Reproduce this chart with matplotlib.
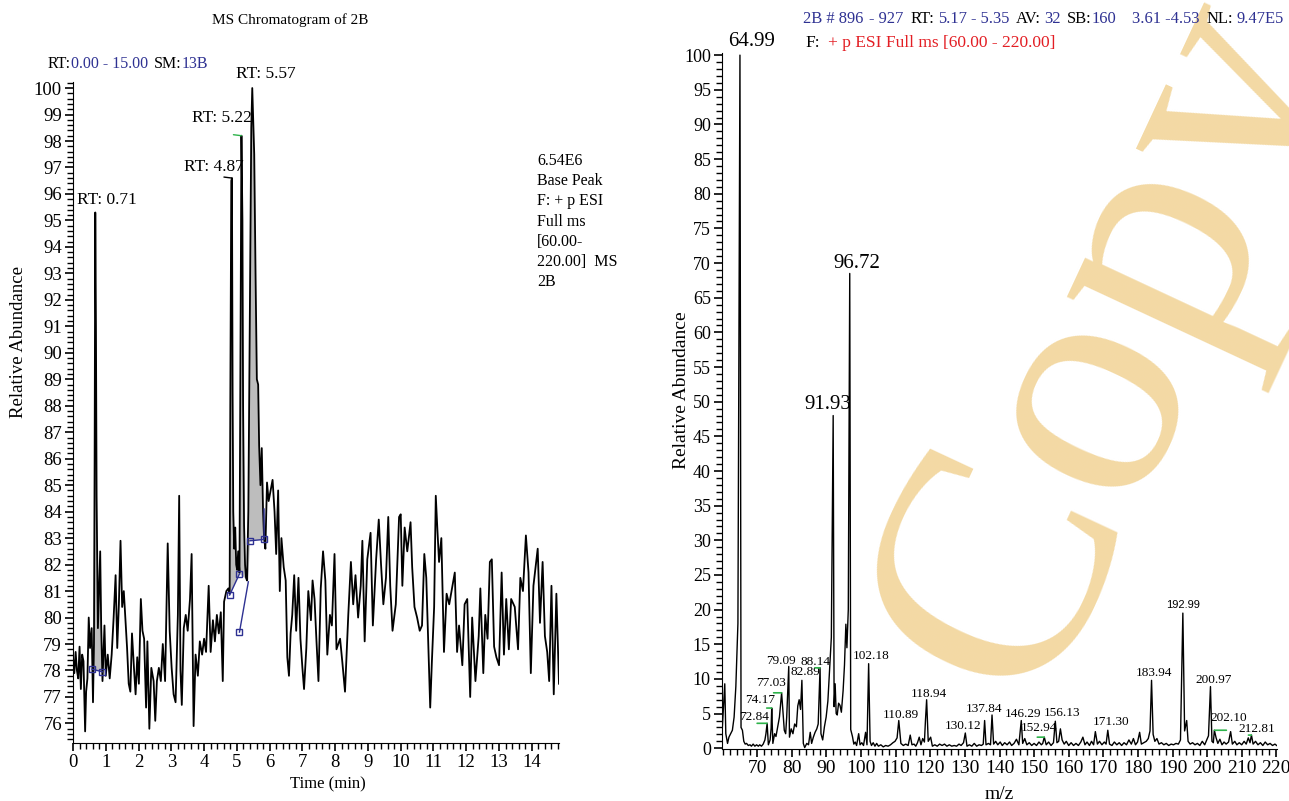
import numpy as np
import matplotlib
matplotlib.use('Agg')
import matplotlib.pyplot as plt
from matplotlib.ticker import MultipleLocator
from matplotlib.transforms import IdentityTransform

plt.rcParams['font.family'] = ['Liberation Serif', 'DejaVu Serif']

NAVY = '#2E3192'
RED = '#E31E24'
GREEN = '#2DB34A'

# --- chromatogram (left) ---
chrom_time = [0.00, 0.04, 0.08, 0.12, 0.16, 0.20, 0.24, 0.28, 0.32, 0.37, 0.40, 0.44, 0.48, 0.52, 0.57,
              0.61, 0.64, 0.66, 0.68, 0.70, 0.72, 0.76, 0.79, 0.83, 0.86, 0.90, 0.96, 1.00, 1.06, 1.12,
              1.18, 1.24, 1.30, 1.35, 1.40, 1.45, 1.50, 1.55, 1.60, 1.65, 1.70, 1.75, 1.80, 1.86, 1.91,
              1.96, 2.01, 2.07, 2.12, 2.17, 2.23, 2.27, 2.33, 2.39, 2.46, 2.51, 2.56, 2.62, 2.68, 2.74,
              2.81, 2.89, 2.95, 3.01, 3.07, 3.13, 3.20, 3.24, 3.28, 3.32, 3.38, 3.44, 3.50, 3.57, 3.62,
              3.68, 3.74, 3.81, 3.87, 3.94, 4.00, 4.06, 4.14, 4.20, 4.27, 4.33, 4.39, 4.45, 4.51, 4.57,
              4.61, 4.68, 4.74, 4.78, 4.80, 4.83, 4.85, 4.87, 4.89, 4.92, 4.95, 4.98, 5.01, 5.04, 5.08,
              5.11, 5.14, 5.17, 5.19, 5.22, 5.25, 5.28, 5.31, 5.35, 5.40, 5.44, 5.47, 5.50, 5.53, 5.57,
              5.61, 5.65, 5.68, 5.72, 5.76, 5.80, 5.83, 5.87, 5.92, 5.97, 6.03, 6.09, 6.15, 6.20, 6.26,
              6.31, 6.36, 6.43, 6.49, 6.54, 6.59, 6.64, 6.69, 6.75, 6.81, 6.88, 6.94, 7.00, 7.05, 7.12,
              7.18, 7.26, 7.31, 7.37, 7.43, 7.49, 7.56, 7.63, 7.70, 7.76, 7.84, 7.90, 7.98, 8.04, 8.15,
              8.22, 8.30, 8.40, 8.48, 8.55, 8.62, 8.70, 8.78, 8.83, 8.90, 8.98, 9.08, 9.15, 9.25, 9.33,
              9.40, 9.47, 9.55, 9.62, 9.68, 9.75, 9.85, 9.95, 10.00, 10.05, 10.12, 10.20, 10.30, 10.35,
              10.42, 10.50, 10.58, 10.65, 10.72, 10.78, 10.90, 10.95, 11.02, 11.07, 11.12, 11.17, 11.24,
              11.32, 11.40, 11.48, 11.55, 11.65, 11.72, 11.78, 11.88, 11.95, 12.03, 12.12, 12.18, 12.28,
              12.38, 12.43, 12.52, 12.58, 12.65, 12.72, 12.78, 12.85, 12.92, 13.00, 13.08, 13.15, 13.22,
              13.30, 13.37, 13.48, 13.58, 13.65, 13.73, 13.82, 13.90, 13.97, 14.05, 14.18, 14.25, 14.33,
              14.40, 14.47, 14.53, 14.60, 14.67, 14.75, 14.83]
chrom_abund = [78.5, 77.9, 78.7, 78.0, 77.7, 78.9, 77.3, 78.6, 78.35, 75.7, 77.2, 77.7, 80.0, 78.85, 79.6,
               76.8, 79.0, 86.0, 95.3, 91.0, 84.6, 79.6, 80.9, 82.5, 79.7, 77.6, 79.7, 77.8, 78.6, 77.7,
               78.6, 80.0, 81.6, 78.85, 80.5, 82.9, 80.4, 81.0, 79.9, 78.85, 77.5, 77.2, 79.4, 78.1, 77.1,
               78.5, 77.5, 80.7, 79.5, 79.2, 76.6, 79.1, 75.8, 78.1, 77.6, 76.1, 77.6, 78.1, 77.6, 79.0,
               77.6, 82.8, 79.5, 78.1, 77.1, 76.8, 80.1, 84.6, 78.0, 76.7, 79.6, 80.1, 79.5, 80.7, 82.4,
               75.9, 78.6, 77.8, 79.1, 78.6, 79.2, 78.7, 81.2, 78.7, 79.9, 79.1, 80.1, 79.4, 80.2, 77.6,
               80.6, 81.0, 81.1, 80.9, 88.0, 96.5, 96.6, 88.5, 84.0, 82.6, 83.4, 82.0, 81.8, 82.5, 81.7,
               90.0, 98.2, 95.0, 88.0, 83.5, 82.0, 81.5, 81.4, 84.0, 92.0, 98.5, 100.0, 98.7, 97.5, 93.0,
               89.0, 88.8, 86.5, 85.0, 86.4, 84.0, 83.0, 82.6, 85.1, 84.4, 84.8, 85.2, 84.0, 82.4, 84.8,
               81.0, 83.0, 81.9, 81.4, 78.5, 77.8, 79.4, 80.1, 81.6, 79.5, 81.5, 79.2, 78.1, 77.3, 78.85,
               81.0, 79.9, 81.4, 80.7, 79.1, 77.6, 81.1, 82.5, 81.4, 78.6, 80.1, 79.7, 82.4, 78.8, 79.2,
               78.3, 77.2, 80.1, 82.1, 80.5, 81.6, 80.0, 81.2, 82.9, 79.1, 82.2, 83.2, 79.7, 82.2, 83.7,
               82.0, 80.5, 81.5, 83.8, 81.2, 79.5, 80.5, 83.8, 83.9, 81.2, 83.4, 82.5, 83.6, 81.9,
               80.4, 80.0, 79.5, 79.7, 82.4, 81.5, 76.6, 78.3, 80.4, 84.6, 83.3, 82.1, 83.0,
               78.7, 80.9, 80.5, 81.0, 81.7, 78.7, 79.7, 78.2, 80.5, 80.7, 77.0, 80.0, 77.6,
               79.3, 81.1, 77.9, 80.1, 79.2, 82.1, 82.2, 78.9, 78.5, 78.2, 81.7, 78.6, 80.7,
               78.8, 80.7, 80.4, 78.8, 81.5, 81.0, 83.1, 81.7, 77.9, 81.2, 82.6, 79.8, 82.1,
               79.3, 78.7, 77.6, 81.2, 77.1, 80.9, 77.5]

rt_labels = ['RT: 0.71', 'RT: 4.87', 'RT: 5.22', 'RT: 5.57']
rt_peak_time = [0.68, 4.85, 5.14, 5.47]
rt_label_offset = [(12, 12), (-18, 11), (-20, 18), (14, 14)]   # pixels

# integration baselines (blue squares)
base1_t = [0.58, 0.90]
base1_y = [78.05, 77.95]
base2_t = [4.78, 5.08, 5.35, 5.40, 5.83]
base2_y = [80.85, 81.65, 81.40, 82.90, 82.95]
blue_seg_t = [[0.58, 0.90], [4.78, 5.08], [5.08, 5.35], [5.40, 5.83, 5.83]]
blue_seg_y = [[78.05, 77.95], [80.85, 81.65], [79.45, 81.35], [82.90, 82.95, 84.10]]
blue_pt_t = [0.58, 0.90, 4.78, 5.08, 5.08, 5.40, 5.83]
blue_pt_y = [78.05, 77.95, 80.85, 81.65, 79.45, 82.90, 82.95]

# --- mass spectrum (right) ---
spec_mz = [59.9, 60.6, 60.9, 61.4, 61.8, 62.3, 62.8, 63.3, 63.8, 64.4, 64.99, 65.3, 65.7, 66.1, 66.5,
           66.9, 67.4, 67.9, 68.3, 68.8, 69.3, 69.8, 70.3, 70.7, 71.2, 71.7, 72.2, 72.5, 72.84, 73.2,
           73.7, 74.0, 74.17, 74.5, 75.0, 75.4, 75.9, 76.4, 77.03, 77.4, 77.8, 78.2, 78.5, 79.09, 79.3,
           79.8, 80.3, 80.8, 81.3, 81.7, 82.1, 82.5, 82.89, 83.3, 83.7, 84.3, 84.8, 85.3, 85.7, 86.2,
           86.7, 87.2, 87.6, 88.14, 88.4, 88.9, 89.4, 89.9, 90.4, 90.9, 91.4, 91.93, 92.2, 92.5, 92.8,
           93.1, 93.5, 93.9, 94.3, 94.8, 95.2, 95.6, 95.9, 96.3, 96.72, 97.0, 97.5, 97.9, 98.3, 98.7,
           99.3, 99.7, 100.2, 100.7, 101.3, 101.7, 102.18, 102.6, 103.0, 103.5, 104.0, 104.5, 105.0,
           105.7, 106.4, 107.1, 107.8, 108.5, 109.2, 109.8, 110.4, 110.89, 111.5, 112.2, 112.9, 113.6,
           114.2, 114.7, 115.3, 115.8, 116.3, 116.8, 117.3, 117.8, 118.3, 118.6, 118.94, 119.4, 120.1,
           120.6, 121.3, 122.0, 122.7, 123.4, 124.1, 124.8, 125.5, 126.2, 126.9, 127.6, 128.3, 128.9,
           129.6, 130.12, 130.6, 131.3, 132.0, 132.7, 133.4, 134.1, 134.8, 135.3, 135.7, 136.1, 136.8,
           137.4, 137.84, 138.3, 138.9, 139.5, 140.2, 140.8, 141.5, 142.2, 142.9, 143.5, 144.2, 144.9,
           145.6, 146.29, 146.7, 147.3, 147.9, 148.6, 149.3, 150.0, 150.7, 151.4, 152.1, 152.5, 152.94,
           153.5, 154.2, 154.9, 155.6, 156.13, 156.6, 157.1, 157.6, 158.1, 158.7, 159.3, 160.0, 160.7,
           161.4, 162.1, 162.8, 163.5, 164.1, 164.7, 165.3, 166.0, 166.6, 167.2, 167.7, 168.3, 168.9,
           169.6, 170.3, 170.8, 171.30, 171.8, 172.5, 173.2, 173.9, 174.6, 175.3, 176.0, 176.7, 177.4,
           178.1, 178.7, 179.3, 179.9, 180.5, 181.0, 181.7, 182.4, 183.0, 183.5, 183.94, 184.4, 184.9,
           185.5, 186.1, 186.8, 187.5, 188.2, 188.9, 189.6, 190.3, 191.0, 191.7, 192.3, 192.99, 193.5,
           194.1, 194.5, 195.1, 195.8, 196.5, 197.2, 197.9, 198.6, 199.3, 199.9, 200.4, 200.97, 201.4,
           201.8, 202.10, 202.6, 203.1, 203.7, 204.3, 204.9, 205.5, 206.2, 206.8, 207.3, 208.0, 208.6,
           209.3, 210.0, 210.7, 211.3, 211.9, 212.4, 212.81, 213.3, 214.0, 214.7, 215.4, 216.1, 216.8,
           217.5, 218.2, 218.9, 219.6, 220.1]
spec_int = [3.0, 9.3, 2.1, 0.7, 1.6, 2.1, 2.6, 4.5, 8.9, 18.0, 100.0, 3.0, 2.6, 1.0, 0.6,
            0.7, 0.4, 0.5, 0.3, 0.6, 0.3, 0.5, 0.3, 0.5, 0.3, 0.6, 1.2, 2.1, 3.6, 0.5,
            1.2, 2.9, 5.8, 0.7, 2.1, 1.7, 3.1, 4.5, 8.0, 5.3, 2.6, 2.1, 4.5, 11.8, 1.6,
            2.8, 2.1, 3.5, 3.1, 6.1, 7.0, 5.6, 9.8, 0.7, 0.1, 0.7, 0.5, 2.3, 0.7, 1.6,
            2.3, 2.8, 3.5, 11.6, 2.1, 1.2, 3.1, 4.5, 6.8, 11.3, 16.0, 48.0, 6.0, 9.3, 5.0,
            4.8, 6.5, 6.2, 5.2, 8.3, 12.0, 17.9, 14.5, 20.0, 68.5, 2.7, 1.7, 0.6, 0.9, 0.4,
            2.1, 0.5, 0.8, 0.4, 2.3, 0.5, 12.2, 1.0, 0.4, 0.8, 0.3, 0.7, 0.3,
            0.5, 0.2, 0.4, 0.3, 0.5, 0.8, 1.0, 1.5, 4.0, 0.7, 0.4, 0.6, 0.4,
            1.9, 0.5, 0.6, 0.3, 0.8, 1.6, 0.5, 1.4, 0.9, 4.0, 7.0, 1.0, 1.6,
            0.3, 0.5, 0.3, 0.6, 0.4, 0.6, 0.3, 0.5, 0.3, 0.4, 0.3, 0.6, 0.4,
            0.8, 2.2, 0.3, 0.5, 0.3, 0.7, 0.3, 0.5, 0.4, 0.6, 4.0, 0.5, 0.7,
            0.5, 4.8, 0.6, 1.0, 0.5, 0.9, 0.4, 0.8, 0.5, 0.9, 0.4, 0.7, 1.3,
            0.5, 4.0, 0.7, 1.4, 0.5, 0.8, 0.4, 0.7, 0.4, 0.9, 0.5, 0.7, 1.6,
            0.5, 0.9, 0.4, 0.8, 3.9, 0.8, 1.0, 2.8, 1.2, 0.6, 1.0, 0.4, 0.8,
            0.4, 0.7, 0.4, 0.9, 1.6, 0.5, 0.9, 0.4, 1.0, 0.5, 2.4, 0.6, 1.0,
            0.5, 0.9, 0.6, 2.6, 0.6, 0.4, 0.9, 0.5, 0.8, 0.4, 0.8, 0.5, 1.2,
            0.6, 1.4, 0.5, 0.9, 2.3, 0.6, 0.8, 1.0, 1.4, 2.5, 9.8, 2.0, 1.0,
            1.4, 0.6, 0.8, 0.5, 0.7, 0.4, 0.6, 0.5, 0.7, 0.6, 1.2, 19.5, 2.5,
            4.0, 1.0, 0.6, 0.8, 0.5, 0.7, 0.4, 1.0, 0.5, 1.2, 1.8, 8.9, 1.0,
            0.8, 2.6, 1.5, 0.7, 1.3, 0.5, 0.9, 0.6, 0.9, 2.4, 0.6, 1.0, 0.5,
            0.8, 0.5, 1.0, 0.6, 1.5, 0.8, 1.9, 0.6, 1.0, 0.5, 0.8, 0.4, 0.9,
            0.5, 0.7, 0.4, 0.6, 0.4]

peak_labels = ['64.99', '91.93', '96.72', '72.84', '74.17', '77.03', '79.09', '82.89', '88.14',
               '102.18', '110.89', '118.94', '130.12', '137.84', '146.29', '152.94', '156.13',
               '171.30', '183.94', '192.99', '200.97', '202.10', '212.81']
big_labels = ['64.99', '91.93', '96.72']
label_offset = [(12, 14), (-5, 11), (7, 10), (-13, 6), (-12, 8), (-11, 10), (-8, 5), (3, 8), (-5, 6),
                (3, 8), (2, 6), (2, 6), (-2, 7), (-8, 6), (2, 7), (-5, 9), (7, 8),
                (3, 8), (2, 7), (0, 8), (3, 7), (14, 12), (5, 6)]
green_marks = ['72.84', '74.17', '77.03', '88.14', '152.94', '202.10', '212.81']
green_len = [-10, -5, -8, -5, -7, 12, -3]

fig = plt.figure(figsize=(12.89, 8.01), dpi=100)
W, H = 1289, 801

# watermark behind everything
fig.text(1031, H - 708, 'Copy', transform=IdentityTransform(), fontsize=240, rotation=65,
         rotation_mode='anchor', ha='left', va='baseline', color='#F3D9A4', zorder=-5)

# ---------- left panel ----------
ax1 = fig.add_axes([73 / W, 1 - 743.3 / H, 486 / W, 661.6 / H])
ax1.set_facecolor('none')
t = np.array(chrom_time)
a = np.array(chrom_abund)

m1 = (t >= base1_t[0]) & (t <= base1_t[-1])
ax1.fill(np.r_[t[m1], base1_t[::-1]], np.r_[a[m1], base1_y[::-1]], color='#BDBDBD', lw=0, zorder=1)
m2 = (t >= base2_t[0]) & (t <= base2_t[-1])
ax1.fill(np.r_[t[m2], base2_t[::-1]], np.r_[a[m2], base2_y[::-1]], color='#BDBDBD', lw=0, zorder=1)

ax1.plot(t, a, color='black', lw=1.3, zorder=3)
for st, sy in zip(blue_seg_t, blue_seg_y):
    ax1.plot(st, sy, color=NAVY, lw=1, zorder=4)
ax1.plot(blue_pt_t, blue_pt_y, ls='none', marker='s', ms=5, mfc='none', mec=NAVY, mew=1, zorder=5)

for lab, pt, off in zip(rt_labels, rt_peak_time, rt_label_offset):
    h = chrom_abund[chrom_time.index(pt)]
    ax1.annotate(lab, (pt, h), xytext=off, textcoords='offset pixels', ha='center', va='center',
                 fontsize=12.5, annotation_clip=False)
ax1.annotate('', (5.14, 98.2), xytext=(-8, 1), textcoords='offset pixels',
             arrowprops=dict(arrowstyle='-', color=GREEN, lw=1, shrinkA=0, shrinkB=0))
ax1.annotate('', (4.85, 96.6), xytext=(-8, 1), textcoords='offset pixels',
             arrowprops=dict(arrowstyle='-', color='black', lw=1, shrinkA=0, shrinkB=0))

ax1.set_xlim(0, 14.83)
ax1.set_ylim(75.25, 100.24)
ax1.xaxis.set_major_locator(MultipleLocator(1))
ax1.xaxis.set_minor_locator(MultipleLocator(0.2))
ax1.yaxis.set_major_locator(MultipleLocator(1))
ax1.yaxis.set_minor_locator(MultipleLocator(0.2))
ax1.set_yticks(np.arange(76, 101))
for s in ['top', 'right']:
    ax1.spines[s].set_visible(False)
ax1.tick_params(which='major', length=6, width=1.2, labelsize=13.5, pad=2)
ax1.tick_params(which='minor', length=4, width=1)
ax1.set_xlabel('Time (min)', fontsize=12)
ax1.xaxis.set_label_coords((328 - 73) / 486, -0.05)
ax1.set_ylabel('Relative Abundance', fontsize=13.5)
ax1.yaxis.set_label_coords((27 - 73) / 486, (743.3 - 342) / 661.6)

fig.text(290 / W, 1 - 20 / H, 'MS Chromatogram of 2B', ha='center', va='center', fontsize=11)
fig.text(537 / W, 1 - 153 / H, '6.54E6\nBase Peak\nF: + p ESI\nFull ms\n[60.00-\n220.00]  MS\n2B',
         ha='left', va='top', fontsize=11.5, linespacing=1.35)

# ---------- right panel ----------
ax2 = fig.add_axes([722 / W, 1 - 749.3 / H, 555 / W, 696.6 / H])
ax2.set_facecolor('none')
ax2.plot(spec_mz, spec_int, color='black', lw=1.0, zorder=3)

for lab, off in zip(peak_labels, label_offset):
    mz = float(lab)
    h = spec_int[spec_mz.index(mz)]
    if lab in big_labels:
        kw = dict(fontsize=15)
    elif lab == '192.99':
        kw = dict(fontsize=8, family='Liberation Sans')
    else:
        kw = dict(fontsize=9.5)
    ax2.annotate(lab, (mz, h), xytext=off, textcoords='offset pixels', ha='center', va='center',
                 annotation_clip=False, **kw)
for lab, ln in zip(green_marks, green_len):
    mz = float(lab)
    h = spec_int[spec_mz.index(mz)]
    ax2.annotate('', (mz, h), xytext=(ln, 0), textcoords='offset pixels',
                 arrowprops=dict(arrowstyle='-', color=GREEN, lw=1.2, shrinkA=0, shrinkB=0))

ax2.set_xlim(59.8, 220.2)
ax2.set_ylim(-0.15, 100.35)
ax2.xaxis.set_major_locator(MultipleLocator(10))
ax2.xaxis.set_minor_locator(MultipleLocator(2))
ax2.yaxis.set_major_locator(MultipleLocator(5))
ax2.yaxis.set_minor_locator(MultipleLocator(1))
ax2.set_xticks(np.arange(70, 221, 10))
ax2.set_yticks(np.arange(0, 101, 5))
for s in ['top', 'right']:
    ax2.spines[s].set_visible(False)
ax2.tick_params(which='major', length=6, width=1.2, pad=2)
ax2.tick_params(axis='x', labelsize=14)
ax2.tick_params(axis='y', labelsize=13)
ax2.tick_params(which='minor', length=4, width=1)
ax2.set_xlabel('m/z', fontsize=14)
ax2.xaxis.set_label_coords(0.5, -0.052)
ax2.set_ylabel('Relative Abundance', fontsize=14)
ax2.yaxis.set_label_coords((690 - 722) / 555, (749.3 - 390) / 696.6)

# ---------- coloured header lines ----------
renderer = fig.canvas.get_renderer()


def color_line(x, y, parts, size):
    for s, c, gap in parts:
        txt = fig.text(x, H - y, s, color=c, fontsize=size, transform=IdentityTransform(),
                       ha='left', va='baseline')
        x += txt.get_window_extent(renderer).width + gap


color_line(48, 68, [('RT:', 'black', 0), ('0.00 - 15.00', NAVY, 6), ('SM:', 'black', 0),
                    ('13B', NAVY, 0)], 11.5)
color_line(803, 23, [('2B # 896', NAVY, 6), ('- 927', NAVY, 7), ('RT:', 'black', 3), ('5.17', NAVY, 4),
                     ('- 5.35', NAVY, 7), ('AV:', 'black', 3), ('32', NAVY, 6), ('SB:', 'black', 0),
                     ('160', NAVY, 16), ('3.61 -4.53', NAVY, 7), ('NL:', 'black', 3), ('9.47E5', NAVY, 0)],
           11.9)
color_line(805, 47, [('F:', 'black', 8), ('+ p ESI Full ms [60.00 - 220.00]', RED, 0)], 12.5)

fig.savefig('out.png', dpi=100)
